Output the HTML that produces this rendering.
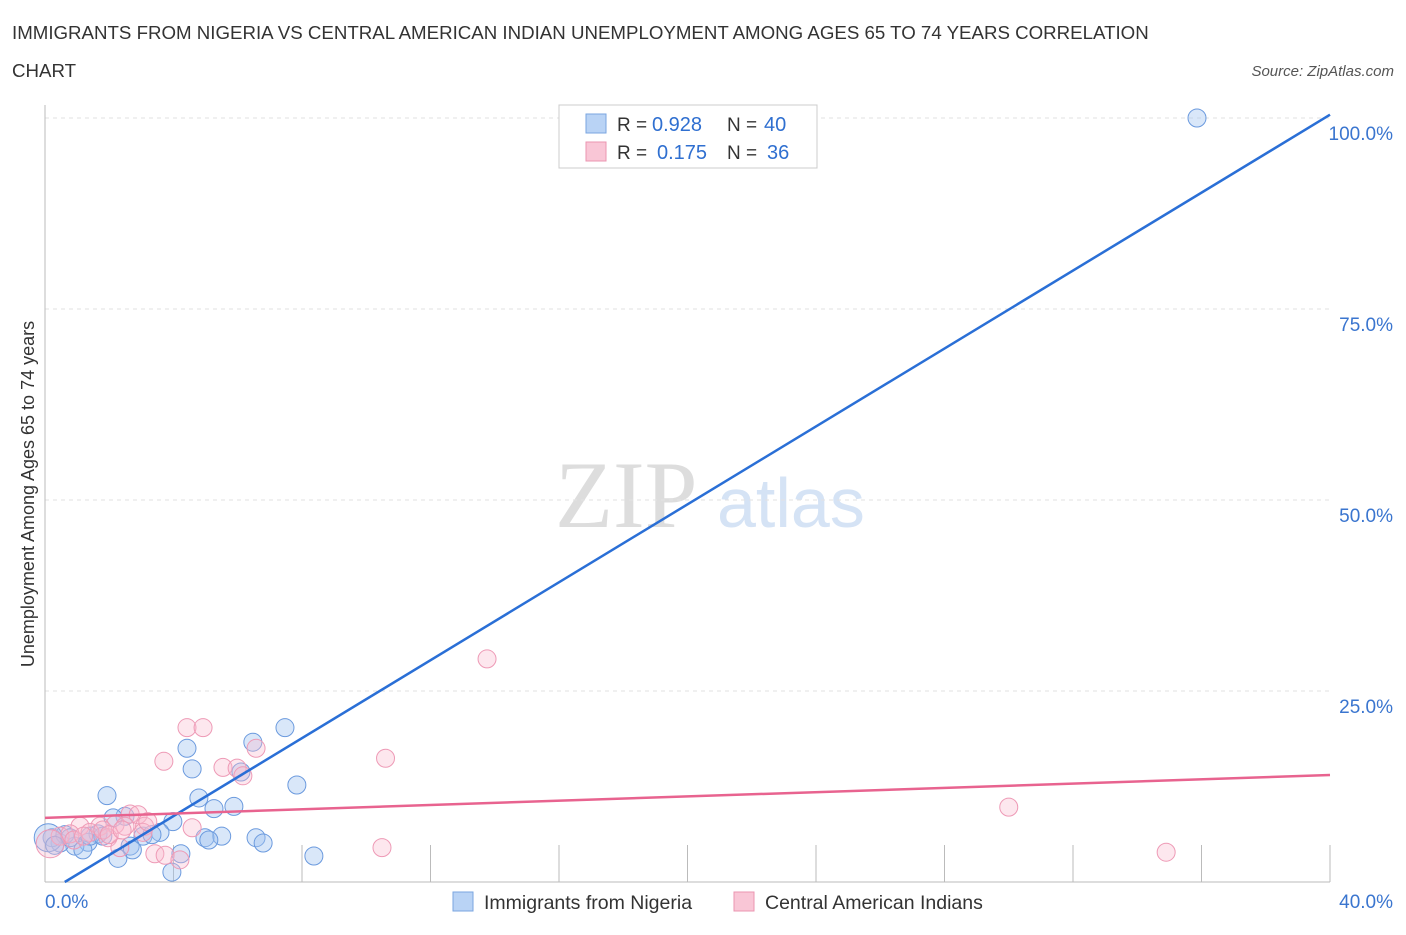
<!DOCTYPE html>
<html><head><meta charset="utf-8"><style>
body{margin:0;background:#fff;font-family:"Liberation Sans",sans-serif;}
</style></head><body>
<svg width="1406" height="930" xmlns="http://www.w3.org/2000/svg" id="c" font-family="Liberation Sans, sans-serif">
<text x="12" y="39" font-size="18.7" fill="#333">IMMIGRANTS FROM NIGERIA VS CENTRAL AMERICAN INDIAN UNEMPLOYMENT AMONG AGES 65 TO 74 YEARS CORRELATION</text>
<text x="12" y="77" font-size="18.7" fill="#333">CHART</text>
<text x="1394" y="76" font-size="15" fill="#555" text-anchor="end" font-style="italic">Source: ZipAtlas.com</text>
<text x="555" y="527" font-size="95" fill="#ddd" font-family="Liberation Serif, serif">ZIP</text>
<text x="717" y="527" font-size="70" fill="#d5e3f5">atlas</text>
<text transform="translate(34,494) rotate(-90)" font-size="18" fill="#333" text-anchor="middle">Unemployment Among Ages 65 to 74 years</text>
<g id="grid"></g><g id="marks"></g>
<g>
<rect x="559" y="105" width="258" height="63" fill="#fff" stroke="#ccc"/>
<rect x="586" y="114" width="20" height="19" fill="#b9d3f5" stroke="#7aa6e0"/>
<rect x="586" y="142" width="20" height="19" fill="#f9c6d6" stroke="#eb95b0"/>
<text x="617" y="131" font-size="19" fill="#333">R =</text>
<text x="652" y="131" font-size="20" fill="#2f6fd0">0.928</text>
<text x="727" y="131" font-size="19" fill="#333">N =</text>
<text x="764" y="131" font-size="20" fill="#2f6fd0">40</text>
<text x="617" y="159" font-size="19" fill="#333">R =</text>
<text x="657" y="159" font-size="20" fill="#2f6fd0">0.175</text>
<text x="727" y="159" font-size="19" fill="#333">N =</text>
<text x="767" y="159" font-size="20" fill="#2f6fd0">36</text>
</g>
<g>
<rect x="453" y="892" width="20" height="19" fill="#b9d3f5" stroke="#7aa6e0"/>
<text x="484" y="909" font-size="19.5" fill="#333">Immigrants from Nigeria</text>
<rect x="734" y="892" width="20" height="19" fill="#f9c6d6" stroke="#eb95b0"/>
<text x="765" y="909" font-size="19.5" fill="#333">Central American Indians</text>
</g>
</svg>
<script>
const xTicks=[0,4,8,12,16,20,24,28,32,36,40];
const yTicks=[25,50,75,100];
const yTickLabels=["25.0%","50.0%","75.0%","100.0%"];
const nigeriaX=[35.86,7.47,6.47,4.42,4.58,6.1,7.84,1.93,4.79,5.88,5.26,2.49,2.12,3.98,3.58,3.05,3.33,5.5,4.98,5.1,6.57,6.79,1.65,1.34,0.93,1.18,0.47,0.22,0.62,2.65,2.72,2.27,4.23,3.95,8.37,0.1,1.4,0.78,0.3,1.8];
const nigeriaY=[100,20.2,18.3,17.5,14.8,14.4,12.7,11.3,11.0,9.9,9.6,8.6,8.4,7.9,6.5,6.0,6.2,6.0,5.8,5.5,5.8,5.1,6.3,5.2,4.7,4.2,5.1,5.8,6.2,4.7,4.2,3.1,3.7,1.3,3.4,5.8,6.0,5.8,4.8,6.0];
const centralX=[13.76,4.42,4.92,3.7,10.6,6.57,5.54,5.98,6.16,30.0,34.9,10.49,4.58,2.65,2.9,3.1,2.18,1.71,1.09,1.96,3.42,3.74,4.2,2.33,0.47,0.78,0.16,1.4,2.49,3.05,3.2,1.8,2.0,0.9,1.2,2.4];
const centralY=[29.2,20.2,20.2,15.8,16.2,17.5,15.0,14.9,13.9,9.8,3.9,4.5,7.1,8.9,8.8,7.3,7.5,7.3,7.3,5.8,3.7,3.5,2.9,4.5,6.0,6.3,5.0,6.5,7.3,6.5,7.9,6.8,6.2,5.5,6.0,6.8];
const bigNigeria=[35], bigCentral=[26];
const nigeriaTrend=[-1.57,2.55], centralTrend=[8.4,0.14];
const X=v=>45+v*32.125, Y=v=>882-v*7.64;
const NS="http://www.w3.org/2000/svg";
const g=document.getElementById('grid'), m=document.getElementById('marks');
function el(t,a,p){const e=document.createElementNS(NS,t);for(const k in a)e.setAttribute(k,a[k]);p.appendChild(e);return e;}
yTicks.forEach((t,i)=>{
 const l=el('line',{x1:45,x2:1330,y1:Y(t),y2:Y(t),stroke:'#e2e2e2','stroke-dasharray':'4,4'},g);
 
 
 const tx=el('text',{x:1393,y:Y(t)+22,'font-size':19,fill:'#3a75cf','text-anchor':'end'},g);
 tx.textContent=yTickLabels[i];
 
 
});
const ax=el('line',{x1:45,x2:1330,y1:882,y2:882,stroke:'#bbb'},g);


const ay=el('line',{x1:45,x2:45,y1:105,y2:882,stroke:'#bbb'},g);


xTicks.slice(1).forEach(t=>{
 const l=el('line',{x1:X(t),x2:X(t),y1:845,y2:882,stroke:'#bbb'},g);
 
 
});
[[0,"0.0%",'start',45],[40,"40.0%",'end',1393]].forEach(a=>{
 const t=el('text',{x:a[3],y:908,'font-size':19,fill:'#3a75cf','text-anchor':a[2]},g);
 t.textContent=a[1];
 
 
});
nigeriaX.forEach((x,i)=>{
 const c=el('circle',{cx:X(x),cy:Y(nigeriaY[i]),r:bigNigeria.includes(i)?14:9,fill:'rgba(160,195,240,0.4)',stroke:'#6b9ade','stroke-width':1},m);
 
 
});
centralX.forEach((x,i)=>{
 const c=el('circle',{cx:X(x),cy:Y(centralY[i]),r:bigCentral.includes(i)?14:9,fill:'rgba(248,185,205,0.35)',stroke:'#ee9ab6','stroke-width':1},m);
 
 
});
const x0=(0-nigeriaTrend[0])/nigeriaTrend[1];
const bl=el('line',{x1:X(x0),y1:Y(0),x2:X(40),y2:Y(nigeriaTrend[0]+nigeriaTrend[1]*40),stroke:'#2a6fd6','stroke-width':2.5},m);


const pl=el('line',{x1:X(0),y1:Y(centralTrend[0]),x2:X(40),y2:Y(centralTrend[0]+centralTrend[1]*40),stroke:'#e8638f','stroke-width':2.5},m);


</script>
</body></html>
